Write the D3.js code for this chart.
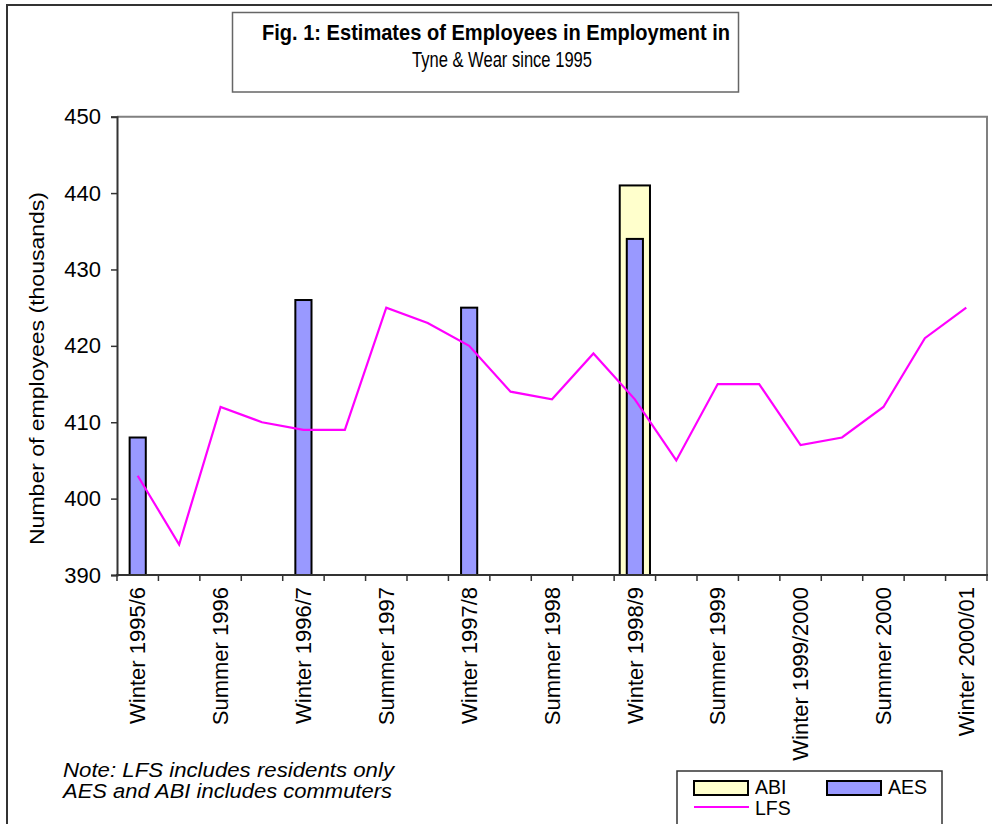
<!DOCTYPE html>
<html>
<head>
<meta charset="utf-8">
<script src="https://cdn.jsdelivr.net/npm/d3@7"></script>
<style>
  html, body { margin: 0; padding: 0; background: #fff; }
  svg { display: block; font-family: "Liberation Sans", Arial, sans-serif; }
</style>
</head>
<body>
<svg id="chart" width="992" height="824"></svg>
<script>
// Quarterly survey periods
const categories = [
  "Winter 1995/6", "Spring 1996", "Summer 1996", "Autumn 1996",
  "Winter 1996/7", "Spring 1997", "Summer 1997", "Autumn 1997",
  "Winter 1997/8", "Spring 1998", "Summer 1998", "Autumn 1998",
  "Winter 1998/9", "Spring 1999", "Summer 1999", "Autumn 1999",
  "Winter 1999/2000", "Spring 2000", "Summer 2000", "Autumn 2000",
  "Winter 2000/01"
];
// Only every other period is labelled on the axis
const tickLabels = [
  "Winter 1995/6", "Summer 1996", "Winter 1996/7", "Summer 1997",
  "Winter 1997/8", "Summer 1998", "Winter 1998/9", "Summer 1999",
  "Winter 1999/2000", "Summer 2000", "Winter 2000/01"
];
// Labour Force Survey (thousands)
const lfsValues = [403, 394, 412, 410, 409, 409, 425, 423, 420, 414, 413, 419,
                   413, 405, 415, 415, 407, 408, 412, 421, 425];
// Annual Employment Survey (thousands)
const aesPeriods = ["Winter 1995/6", "Winter 1996/7", "Winter 1997/8", "Winter 1998/9"];
const aesValues = [408, 426, 425, 434];
// Annual Business Inquiry (thousands)
const abiPeriods = ["Winter 1998/9"];
const abiValues = [441];
const yTicks = [390, 400, 410, 420, 430, 440, 450];

const FONT = '"Liberation Sans", Arial, sans-serif';
const svg = d3.select("#chart");

const plotL = 117, plotR = 987, plotT = 116.7, plotB = 575;

const x = d3.scaleBand().domain(categories).range([plotL, plotR]).padding(0);
const xAES = d3.scaleBand().domain(categories).range([plotL, plotR])
  .paddingInner(0.61).paddingOuter(0.305);
const xABI = d3.scaleBand().domain(categories).range([plotL, plotR])
  .paddingInner(0.27).paddingOuter(0.135);
const y = d3.scaleLinear().domain([390, 450]).range([plotB, plotT]);

// Chart area frame
svg.append("rect")
  .attr("x", 7).attr("y", 5).attr("width", 1100).attr("height", 1000)
  .attr("fill", "none").attr("stroke", "#333").attr("stroke-width", 2);

// Title box
svg.append("rect")
  .attr("x", 232.5).attr("y", 12.5).attr("width", 506).attr("height", 79.5)
  .attr("fill", "#fff").attr("stroke", "#666").attr("stroke-width", 1.5);
svg.append("text")
  .attr("x", 496).attr("y", 40).attr("text-anchor", "middle")
  .attr("font-size", 22).attr("font-weight", "bold")
  .attr("textLength", 468).attr("lengthAdjust", "spacingAndGlyphs")
  .text("Fig. 1: Estimates of Employees in Employment in");
svg.append("text")
  .attr("x", 502).attr("y", 67).attr("text-anchor", "middle")
  .attr("font-size", 22)
  .attr("textLength", 180).attr("lengthAdjust", "spacingAndGlyphs")
  .text("Tyne & Wear since 1995");

// Plot area border (top and right)
svg.append("path")
  .attr("d", `M${plotL},${plotT}H${plotR}V${plotB}`)
  .attr("fill", "none").attr("stroke", "#808080").attr("stroke-width", 2);

// Bars: ABI behind AES
svg.append("g").selectAll("rect")
  .data(abiPeriods.map((p, i) => ({ p, v: abiValues[i] })))
  .join("rect")
  .attr("x", d => xABI(d.p)).attr("width", xABI.bandwidth())
  .attr("y", d => y(d.v)).attr("height", d => y(390) - y(d.v))
  .attr("fill", "#FFFFCC").attr("stroke", "#000").attr("stroke-width", 2);

svg.append("g").selectAll("rect")
  .data(aesPeriods.map((p, i) => ({ p, v: aesValues[i] })))
  .join("rect")
  .attr("x", d => xAES(d.p)).attr("width", xAES.bandwidth())
  .attr("y", d => y(d.v)).attr("height", d => y(390) - y(d.v))
  .attr("fill", "#9999FF").attr("stroke", "#000").attr("stroke-width", 2);

// LFS line
const line = d3.line()
  .x((d, i) => x(categories[i]) + x.bandwidth() / 2)
  .y(d => y(d));
svg.append("path")
  .datum(lfsValues)
  .attr("d", line)
  .attr("fill", "none").attr("stroke", "#FF00FF").attr("stroke-width", 2.2)
  .attr("stroke-linejoin", "miter");

// Y axis
const yAxis = svg.append("g")
  .attr("transform", `translate(${plotL},0)`)
  .call(d3.axisLeft(y).tickValues(yTicks).tickSize(6).tickPadding(10));
yAxis.select(".domain").attr("stroke", "#333").attr("stroke-width", 2);
yAxis.selectAll(".tick line").attr("stroke", "#333").attr("stroke-width", 1.5);
yAxis.selectAll(".tick text")
  .attr("font-family", FONT).attr("font-size", 22).attr("fill", "#000");

// X axis: tick marks on period boundaries, labels on every other period
const xg = svg.append("g");
const boundaries = categories.map(c => x(c)).concat([x.range()[1]]);
xg.selectAll("line.tk").data(boundaries).join("line")
  .attr("class", "tk")
  .attr("x1", d => d).attr("x2", d => d)
  .attr("y1", plotB).attr("y2", plotB + 6)
  .attr("stroke", "#333").attr("stroke-width", 1.5);
xg.append("line")
  .attr("x1", plotL - 1).attr("x2", plotR + 1)
  .attr("y1", plotB).attr("y2", plotB)
  .attr("stroke", "#333").attr("stroke-width", 2);
xg.selectAll("text").data(tickLabels).join("text")
  .attr("transform", d => `translate(${x(d) + x.bandwidth() / 2},${plotB + 12}) rotate(-90)`)
  .attr("text-anchor", "end").attr("dy", "0.35em")
  .attr("font-size", 22).attr("fill", "#000")
  .text(d => d);

// Y axis title
svg.append("text")
  .attr("transform", "translate(43.5,368.5) rotate(-90)")
  .attr("text-anchor", "middle")
  .attr("font-size", 21)
  .attr("textLength", 353).attr("lengthAdjust", "spacingAndGlyphs")
  .text("Number of employees (thousands)");

// Note
const note = svg.append("g").attr("font-style", "italic").attr("font-size", 19.5);
note.append("text").attr("x", 63).attr("y", 777)
  .attr("textLength", 331).attr("lengthAdjust", "spacingAndGlyphs")
  .text("Note: LFS includes residents only");
note.append("text").attr("x", 63).attr("y", 798)
  .attr("textLength", 329).attr("lengthAdjust", "spacingAndGlyphs")
  .text("AES and ABI includes commuters");

// Legend
const lg = svg.append("g");
lg.append("rect")
  .attr("x", 677).attr("y", 771).attr("width", 265).attr("height", 80)
  .attr("fill", "#fff").attr("stroke", "#333").attr("stroke-width", 1.5);
const legendItems = [
  { name: "ABI", type: "bar", fill: "#FFFFCC", lx: 694, ly: 781 },
  { name: "AES", type: "bar", fill: "#9999FF", lx: 827, ly: 781 },
  { name: "LFS", type: "line", fill: "#FF00FF", lx: 694, ly: 800 }
];
legendItems.forEach(d => {
  if (d.type === "bar") {
    lg.append("rect").attr("x", d.lx).attr("y", d.ly).attr("width", 54).attr("height", 14)
      .attr("fill", d.fill).attr("stroke", "#000").attr("stroke-width", 2);
    lg.append("text").attr("x", d.lx + 61).attr("y", d.ly + 13)
      .attr("font-size", 19.5).text(d.name);
  } else {
    lg.append("line").attr("x1", d.lx).attr("x2", d.lx + 55)
      .attr("y1", d.ly + 7).attr("y2", d.ly + 7)
      .attr("stroke", d.fill).attr("stroke-width", 2.2);
    lg.append("text").attr("x", d.lx + 61).attr("y", d.ly + 15)
      .attr("font-size", 19.5).text(d.name);
  }
});
</script>
</body>
</html>
